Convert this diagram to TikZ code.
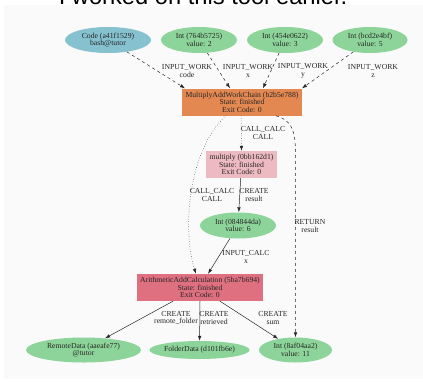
\documentclass[tikz,border=0pt]{standalone}
\usepackage{fontspec}
\setmainfont{Liberation Serif}
\newfontfamily\titlefont{Liberation Sans}
\usetikzlibrary{arrows.meta,shapes.geometric}
\definecolor{codeblue}{HTML}{86C1CF}
\definecolor{datagreen}{HTML}{8CD499}
\definecolor{wcorange}{HTML}{E38851}
\definecolor{cfpink}{HTML}{EDBAC1}
\definecolor{calcred}{HTML}{DE707F}
\definecolor{panel}{HTML}{FAFAFA}

\begin{document}
\begin{tikzpicture}[x=1pt,y=-1pt,
    every node/.style={font=\fontsize{7.7}{7.6}\selectfont,align=center,inner sep=0pt,text=black!85},
    data/.style={ellipse,fill=datagreen,minimum height=26pt},
    proc/.style={rectangle,minimum height=27pt},
    link/.style={draw=black!85,line width=0.5pt,-{Latex[length=5pt,width=3.5pt]}}]
  \useasboundingbox (0,0) rectangle (423,381);
  \fill[panel] (4,5) rectangle (423,379);
  \node[font=\titlefont\fontsize{23.7}{24}\selectfont,text=black,anchor=base] (title) at (203,4) {I worked on this tool earlier.};
  % inputs
  \node[data,fill=codeblue,minimum width=86pt] (code) at (108,40) {Code (a41f1529)\\bash@tutor};
  \node[data,minimum width=76pt] (x) at (199,40) {Int (764b5725)\\value: 2};
  \node[data,minimum width=76pt] (y) at (285,40) {Int (454e0622)\\value: 3};
  \node[data,minimum width=75pt] (z) at (370,40) {Int (bcd2e4bf)\\value: 5};
  % processes and outputs
  \node[proc,fill=wcorange,minimum width=120pt] (wc) at (242,102) {MultiplyAddWorkChain (b2b5e788)\\State: finished\\Exit Code: 0};
  \node[proc,fill=cfpink,minimum width=71pt] (mul) at (241.5,164.5) {multiply (0bb162d1)\\State: finished\\Exit Code: 0};
  \node[data,minimum width=76pt] (six) at (238,225.5) {Int (084844da)\\value: 6};
  \node[proc,fill=calcred,minimum width=126pt] (add) at (200,287.5) {ArithmeticAddCalculation (5ba7b694)\\State: finished\\Exit Code: 0};
  \node[data,minimum width=115pt,minimum height=25pt] (remote) at (83.5,350) {RemoteData (aaeafe77)\\@tutor};
  \node[data,minimum width=97pt,minimum height=18pt] (folder) at (199.5,350) {FolderData (d101fb6e)};
  \node[data,minimum width=73pt,minimum height=25pt] (sum) at (295.5,350) {Int (8af04aa2)\\value: 11};
  % links
  \draw[link,dashed] (code) -- ([xshift=-57pt]wc.north);
  \draw[link,dashed] (x) -- ([xshift=-12pt]wc.north);
  \draw[link,dashed] (y) -- ([xshift=21pt]wc.north);
  \draw[link,dashed] (z) -- ([xshift=60pt]wc.north);
  \draw[link,dotted] ([xshift=-1pt]wc.south) -- (mul.north);
  \draw[link] (mul) -- (six);
  \draw[link,dotted] ([xshift=-16pt]wc.south) .. controls (188,150) and (182,230) .. ([xshift=-4pt]add.north);
  \draw[link] (six) -- ([xshift=8pt]add.north);
  \draw[link,dashed] ([xshift=34pt]wc.south) .. controls (290,120) and (295,128) .. (295.5,150) -- (sum.north);
  \draw[link] ([xshift=-27pt]add.south) -- (remote);
  \draw[link] (add.south) -- (folder);
  \draw[link] ([xshift=20pt]add.south) -- (sum);
  % link labels
  \node (l1) at (187,71) {INPUT\_WORK\\code};
  \node (l2) at (248,71) {INPUT\_WORK\\x};
  \node (l3) at (303,71) {INPUT\_WORK\\y};
  \node (l4) at (373,71) {INPUT\_WORK\\z};
  \node (l5) at (263,133) {CALL\_CALC\\CALL};
  \node (l6) at (212,195) {CALL\_CALC\\CALL};
  \node (l7) at (254,195) {CREATE\\result};
  \node (l8) at (310,226) {RETURN\\result};
  \node (l9) at (246,257) {INPUT\_CALC\\x};
  \node (l10) at (176,318) {CREATE\\remote\_folder};
  \node (l11) at (214,318) {CREATE\\retrieved};
  \node (l12) at (273,318) {CREATE\\sum};
\end{tikzpicture}
\end{document}
